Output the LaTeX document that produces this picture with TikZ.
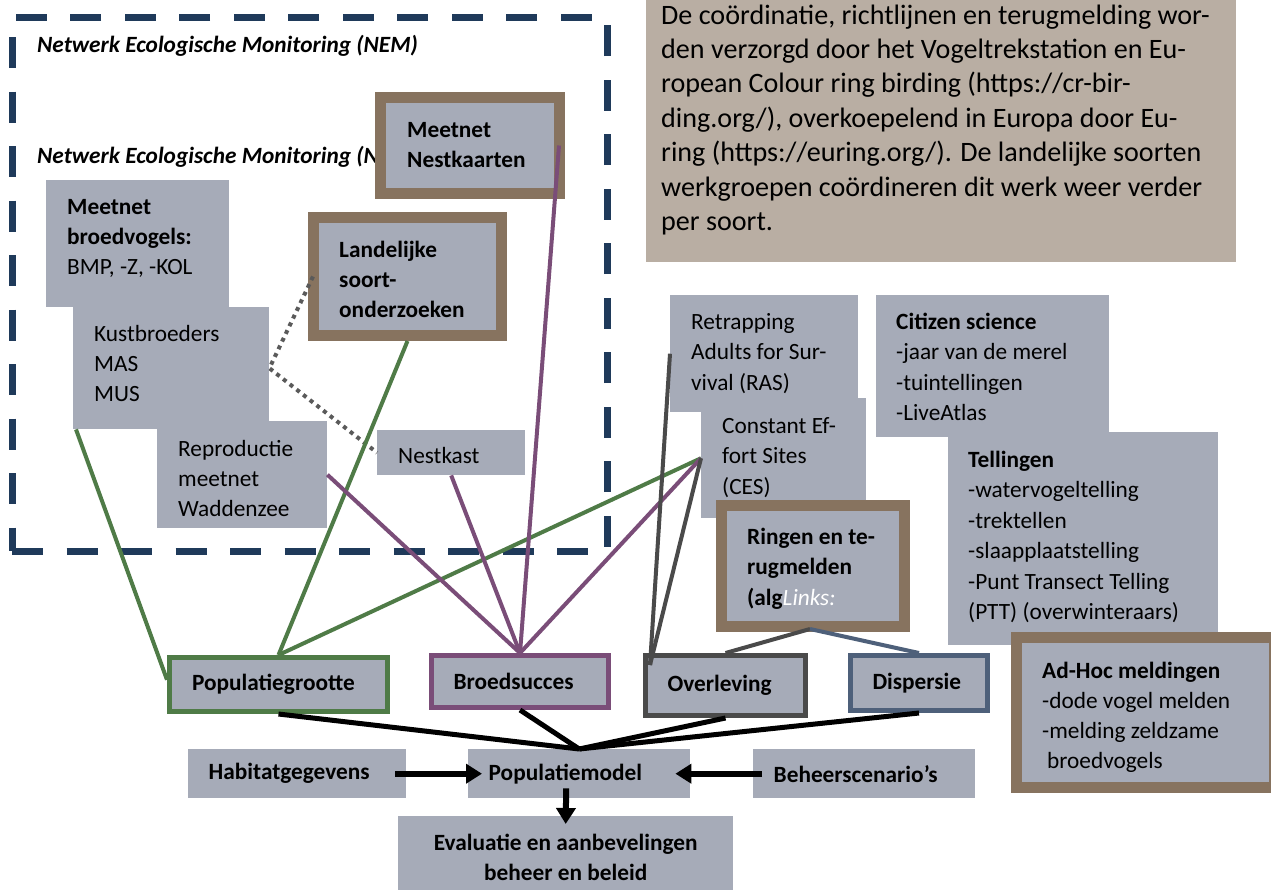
\documentclass[tikz,border=0pt]{standalone}
\usepackage{fontspec}
\setmainfont{Carlito}
\usetikzlibrary{arrows.meta,calc}
\definecolor{boxgrey}{HTML}{A6ABB8}
\definecolor{brownc}{HTML}{87735F}
\definecolor{tanc}{HTML}{B9AEA3}
\definecolor{navy}{HTML}{1F3A5A}
\definecolor{greenc}{HTML}{4F7B47}
\definecolor{purplec}{HTML}{7A4D78}
\definecolor{dgreyc}{HTML}{4A4A4A}
\definecolor{bluegc}{HTML}{4E607A}
\definecolor{dotgrey}{HTML}{5A5A5A}
\newcommand{\mylines}[1]{\begin{tabular}[t]{@{}l@{}}#1\end{tabular}}
\begin{document}
\begin{tikzpicture}[x=1pt,y=-1pt,
  every node/.style={font=\fontsize{23.3}{30}\selectfont},
  gbox/.style={fill=boxgrey, inner sep=0pt, anchor=north west},
  bbox/.style={gbox, draw=brownc, line width=11pt},
  cbox/.style={gbox, draw=#1, line width=5pt, inner xsep=22pt, align=left,
    font=\bfseries\fontsize{23.3}{30}\selectfont},
  tbox/.style={gbox, inner xsep=20.5pt, align=left, font=\bfseries\fontsize{23.3}{30}\selectfont},
  txt/.style={inner sep=0pt, anchor=base west},
  frame/.style={draw=navy, line width=7pt, dash pattern=on 31pt off 23.5pt, dash phase=0pt, inner sep=0pt, anchor=north west},
  conn/.style={line width=4pt},
  blk/.style={line width=5pt, black},
  arr/.style={line width=6pt, black, -{Triangle[length=16pt,width=19pt]}},
  dots/.style={draw=dotgrey, line width=4pt, dash pattern=on 4pt off 4.5pt}
]
\useasboundingbox (0,0) rectangle (1271,889);

% NEM frame and titles
\node[frame, minimum width=595pt, minimum height=534pt] (nem) at (8.5,13.5) {};
\node[txt, font=\bfseries\itshape\fontsize{23.3}{30}\selectfont] (nem1) at (37,52) {Netwerk Ecologische Monitoring (NEM)};
\node[txt, font=\bfseries\itshape\fontsize{23.3}{30}\selectfont] (nem2) at (37,163) {Netwerk Ecologische Monitoring (NEM)};

% boxes inside NEM
\node[bbox, minimum width=179pt, minimum height=96pt] (nk) at (375,92) {};
\node[txt] (nk-t) at (407,137) {\mylines{\textbf{Meetnet}\\ \textbf{Nestkaarten}}};

\node[gbox, minimum width=183pt, minimum height=127pt] (bvog) at (46,180) {};
\node[gbox, minimum width=196pt, minimum height=122pt] (kust) at (73,307) {};
\node[gbox, minimum width=170pt, minimum height=107pt] (repr) at (157,421) {};
\node[txt] (bvog-t) at (67,214) {\mylines{\textbf{Meetnet}\\ \textbf{broedvogels:}\\ BMP, -Z, -KOL}};
\node[txt] (kust-t) at (94,341) {\mylines{Kustbroeders\\ MAS\\ MUS}};
\node[txt] (repr-t) at (178,456) {\mylines{Reproductie\\ meetnet\\ Waddenzee}};

\node[bbox, minimum width=188pt, minimum height=118pt] (land) at (308,212) {};
\node[txt] (land-t) at (339,257) {\mylines{\textbf{Landelijke}\\ \textbf{soort-}\\ \textbf{onderzoeken}}};

\node[gbox, minimum width=148pt, minimum height=45pt] (nkast) at (377,430) {};
\node[txt] (nkast-t) at (398,463) {Nestkast};

% info box
\node[gbox, fill=tanc, minimum width=590pt, minimum height=262pt] (info) at (646,0) {};
\node[txt, font=\fontsize{28.1}{34.4}\selectfont] (info-t) at (661,24) {\mylines{De coördinatie, richtlijnen en terugmelding wor-\\
den verzorgd door het Vogeltrekstation en Eu-\\
ropean Colour ring birding (https://cr-bir-\\
ding.org/), overkoepelend in Europa door Eu-\\
ring (https://euring.org/). De landelijke soorten\\
werkgroepen coördineren dit werk weer verder\\
per soort.}};

% right side boxes
\node[gbox, minimum width=188pt, minimum height=117pt] (ras) at (670,295) {};
\node[txt, font=\fontsize{23.3}{30.5}\selectfont] (ras-t) at (691,329) {\mylines{Retrapping\\ Adults for Sur-\\ vival (RAS)}};
\node[gbox, minimum width=165pt, minimum height=120pt] (ces) at (701,398) {};
\node[txt, font=\fontsize{23.3}{30.5}\selectfont] (ces-t) at (722,433) {\mylines{Constant Ef-\\ fort Sites\\ (CES)}};
\node[bbox, minimum width=183pt, minimum height=121pt] (ring) at (716,500) {};
\node[txt, font=\fontsize{23.3}{30.5}\selectfont] (ring-t) at (747,544) {\mylines{\textbf{Ringen en te-}\\ \textbf{rugmelden}\\ \textbf{(alg}\textit{\textcolor{white}{Links:}}}};

\node[gbox, minimum width=233pt, minimum height=142pt] (cit) at (876,295) {};
\node[txt, font=\fontsize{23.3}{30.6}\selectfont] (cit-t) at (896,329) {\mylines{\textbf{Citizen science}\\ -jaar van de merel\\ -tuintellingen\\ -LiveAtlas}};
\node[gbox, minimum width=270pt, minimum height=213pt] (tel) at (948,432) {};
\node[txt, font=\fontsize{23.3}{30.5}\selectfont] (tel-t) at (968,467) {\mylines{\textbf{Tellingen}\\ -watervogeltelling\\ -trektellen\\ -slaapplaatstelling\\ -Punt Transect Telling\\ (PTT) (overwinteraars)}};
\node[bbox, minimum width=258pt, minimum height=150pt] (adhoc) at (1011,632) {};
\node[txt] (adhoc-t) at (1042,678) {\mylines{\textbf{Ad-Hoc meldingen}\\ -dode vogel melden\\ -melding zeldzame\\ \hspace{5pt}broedvogels}};

% outcome boxes
\node[cbox=greenc, minimum width=218pt, minimum height=54pt, text width=173pt] (popgr) at (167,655) {Populatiegrootte};
\node[cbox=purplec, minimum width=177pt, minimum height=52pt, text width=133pt] (bro) at (429,653) {Broedsucces};
\node[cbox=dgreyc, minimum width=160pt, minimum height=60pt, text width=116pt] (ovl) at (643,653) {Overleving};
\node[cbox=bluegc, minimum width=137pt, minimum height=55pt, text width=93pt] (dis) at (848,653) {Dispersie};

\node[tbox, minimum width=218pt, minimum height=49pt, text width=177pt] (hab) at (188,749) {Habitatgegevens};
\node[tbox, minimum width=222pt, minimum height=49pt, text width=181pt] (pm) at (468,749) {Populatiemodel};
\node[tbox, minimum width=222pt, minimum height=49pt, text width=181pt] (beh) at (753,749) {Beheerscenario’s};
\node[gbox, minimum width=335pt, minimum height=82pt, align=center, font=\bfseries\fontsize{23.3}{30}\selectfont] (eva) at (398,816) {Evaluatie en aanbevelingen\\ beheer en beleid};

% dotted link
\draw[dots] ($(land.west)+(5,0)$) -- (kust.east) -- (nkast.west);

% green connectors
\draw[conn, greenc] ($(kust.south west)+(3,0)$) -- ($(popgr.north west)!0.42!(popgr.south west)$);
\draw[conn, greenc] (land.south) -- (popgr.north);
\draw[conn, greenc] (ces.west) -- (popgr.north);

% purple connectors
\draw[conn, purplec] (repr.east) -- (bro.north);
\draw[conn, purplec] (nkast.south) -- (bro.north);
\draw[conn, purplec] ($(nk.east)+(-6,0)$) -- (bro.north);
\draw[conn, purplec] (ces.west) -- (bro.north);

% grey connectors
\coordinate (ovlc) at ($(ovl.north west)+(7,12)$);
\draw[conn, dgreyc] (ras.west) -- (ovlc);
\draw[conn, dgreyc] (ces.west) -- (ovlc);
\draw[conn, dgreyc] ($(ring.south)+(-3,-3)$) -- (ovl.north);
\draw[conn, bluegc] ($(ring.south)+(-3,-3)$) -- (dis.north);

% black connectors
\draw[blk] (popgr.south) -- (pm.north);
\draw[blk] (bro.south) -- (pm.north);
\draw[blk] (ovl.south) -- (pm.north);
\draw[blk] (dis.south) -- (pm.north);

% arrows
\draw[arr] ($(hab.east)+(-11,0)$) -- ($(pm.west)+(14,0)$);
\draw[arr] ($(beh.west)+(9,0)$) -- ($(pm.east)+(-15,0)$);
\draw[arr] ($(pm.south)+(-13,-10)$) -- ($(eva.north)+(0,8)$);
\end{tikzpicture}
\end{document}
